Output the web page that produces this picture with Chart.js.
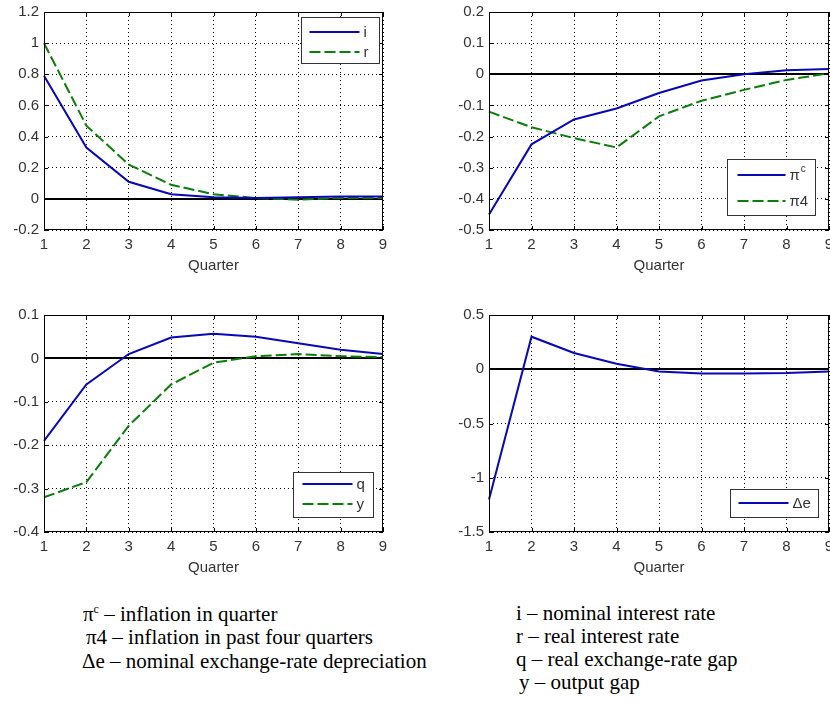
<!DOCTYPE html>
<html>
<head>
<meta charset="utf-8">
<script src="https://cdn.jsdelivr.net/npm/chart.js@4.4.1/dist/chart.umd.min.js"></script>
<style>
  body { margin: 0; background: #fff; }
  #page { position: relative; width: 830px; height: 702px; overflow: hidden; background: #fff; }
  canvas { position: absolute; }
  .note { position: absolute; font-family: "Liberation Serif", "Times New Roman", serif; font-size: 21px; line-height: 21px; color: #000; white-space: nowrap; }
  .note sup { font-size: 12px; line-height: 0; vertical-align: 8px; }
</style>
</head>
<body>
<div id="page">
  <canvas id="rates" width="415" height="290" style="left:0;top:0"></canvas>
  <canvas id="inflation" width="415" height="290" style="left:415px;top:0"></canvas>
  <canvas id="gaps" width="415" height="290" style="left:0;top:300px"></canvas>
  <canvas id="exchange" width="415" height="290" style="left:415px;top:300px"></canvas>

  <div class="note" style="left:83px;top:604px">π<sup>c</sup> – inflation in quarter</div>
  <div class="note" style="left:86px;top:627px">π4 – inflation in past four quarters</div>
  <div class="note" style="left:82px;top:651px">Δe – nominal exchange-rate depreciation</div>

  <div class="note" style="left:516px;top:603px">i – nominal interest rate</div>
  <div class="note" style="left:516px;top:626px">r – real interest rate</div>
  <div class="note" style="left:516px;top:649px">q – real exchange-rate gap</div>
  <div class="note" style="left:519px;top:672px">y – output gap</div>
</div>
<script>
// quarters after the shock
const quarters = ['1', '2', '3', '4', '5', '6', '7', '8', '9'];

// top left: interest rates
const nominalRate = [0.79, 0.33, 0.11, 0.03, 0.01, 0.005, 0.01, 0.015, 0.015];
const realRate = [1.0, 0.47, 0.22, 0.09, 0.03, 0.005, -0.005, 0.005, 0.005];
const ratesTicks = [-0.2, 0, 0.2, 0.4, 0.6, 0.8, 1, 1.2];

// top right: inflation
const inflationQuarter = [-0.45, -0.225, -0.145, -0.11, -0.06, -0.02, 0.0, 0.013, 0.017];
const inflationFour = [-0.12, -0.17, -0.205, -0.235, -0.135, -0.085, -0.05, -0.018, 0.003];
const inflationTicks = [-0.5, -0.4, -0.3, -0.2, -0.1, 0, 0.1, 0.2];

// bottom left: gaps
const realExchangeGap = [-0.19, -0.06, 0.01, 0.048, 0.057, 0.05, 0.035, 0.02, 0.01];
const outputGap = [-0.32, -0.285, -0.155, -0.06, -0.01, 0.005, 0.01, 0.005, 0.003];
const gapsTicks = [-0.4, -0.3, -0.2, -0.1, 0, 0.1];

// bottom right: depreciation
const depreciation = [-1.2, 0.3, 0.15, 0.05, -0.02, -0.04, -0.04, -0.035, -0.02];
const exchangeTicks = [-1.5, -1, -0.5, 0, 0.5];

const BLUE = '#0808b4';
const GREEN = '#0a7d0a';
const AXIS_FONT = { family: '"Liberation Sans", Arial, sans-serif', size: 15 };

// zero line, box with inward ticks and a matlab-like legend inside the axes
const matlabBox = {
  id: 'matlabBox',
  beforeDatasetsDraw(chart) {
    const { ctx, chartArea: a, scales: { y } } = chart;
    const y0 = Math.round(y.getPixelForValue(0));
    ctx.save();
    ctx.strokeStyle = '#000';
    ctx.lineWidth = 2;
    ctx.beginPath();
    ctx.moveTo(a.left, y0);
    ctx.lineTo(a.right, y0);
    ctx.stroke();
    ctx.restore();
  },
  afterDraw(chart, args, opts) {
    const { ctx, chartArea: a, scales: { x, y } } = chart;
    ctx.save();
    ctx.strokeStyle = '#000';
    ctx.lineWidth = 1;
    ctx.strokeRect(a.left + 0.5, a.top + 0.5, a.right - a.left - 1, a.bottom - a.top - 1);

    // short ticks pointing into the axes, on all four sides
    ctx.beginPath();
    x.ticks.forEach((t, i) => {
      const px = Math.round(x.getPixelForTick(i)) + 0.5;
      ctx.moveTo(px, a.bottom); ctx.lineTo(px, a.bottom - 4);
      ctx.moveTo(px, a.top); ctx.lineTo(px, a.top + 4);
    });
    y.ticks.forEach((t) => {
      const py = Math.round(y.getPixelForValue(t.value)) + 0.5;
      ctx.moveTo(a.left, py); ctx.lineTo(a.left + 4, py);
      ctx.moveTo(a.right, py); ctx.lineTo(a.right - 4, py);
    });
    ctx.stroke();

    const L = opts.legend;
    const bx = Math.round(a.right - L.right - L.width) + 0.5;
    const by = Math.round(L.top != null ? a.top + L.top : a.bottom - L.bottom - L.height) + 0.5;
    ctx.fillStyle = '#fff';
    ctx.fillRect(bx, by, L.width, L.height);
    ctx.strokeStyle = '#333';
    ctx.strokeRect(bx, by, L.width, L.height);

    chart.data.datasets.forEach((ds, i) => {
      const ry = Math.round(by + L.rowTop + i * L.rowGap);
      const lx = bx + L.inset;
      ctx.strokeStyle = ds.borderColor;
      ctx.lineWidth = 2;
      ctx.setLineDash(ds.borderDash || []);
      ctx.beginPath();
      ctx.moveTo(lx, ry);
      ctx.lineTo(lx + L.lineLen, ry);
      ctx.stroke();
      ctx.setLineDash([]);

      const [base, sup] = ds.label.split('^');
      const tx = lx + L.lineLen + 4;
      ctx.fillStyle = '#333';
      ctx.textBaseline = 'middle';
      ctx.font = '15px "Liberation Sans", Arial, sans-serif';
      ctx.fillText(base, tx, ry + 1);
      if (sup) {
        const w = ctx.measureText(base).width;
        ctx.font = '10px "Liberation Sans", Arial, sans-serif';
        ctx.fillText(sup, tx + w + 1, ry - 6);
      }
    });
    ctx.restore();
  }
};

function makePanel(id, series, yTicks, legend, padding) {
  new Chart(document.getElementById(id), {
    type: 'line',
    data: {
      labels: quarters,
      datasets: series.map(s => ({
        label: s.label,
        data: s.data,
        borderColor: s.color,
        borderDash: s.dash || [],
        borderWidth: 2,
        pointRadius: 0,
        tension: 0,
        fill: false,
      })),
    },
    options: {
      responsive: false,
      animation: false,
      layout: { padding },
      plugins: {
        legend: { display: false },
        tooltip: { enabled: false },
        matlabBox: { legend },
      },
      scales: {
        x: {
          offset: false,
          grid: { color: '#000', lineWidth: 1, drawTicks: false },
          border: { display: false, dash: [1, 3] },
          ticks: { color: '#333', font: AXIS_FONT, padding: 6, maxRotation: 0 },
          title: { display: true, text: 'Quarter', color: '#333', font: AXIS_FONT, padding: { top: 5, bottom: 5 } },
          afterFit: (s) => { s.height = 50; s.paddingLeft = 0; s.paddingRight = 0; },
        },
        y: {
          min: yTicks[0],
          max: yTicks[yTicks.length - 1],
          afterBuildTicks: (s) => { s.ticks = yTicks.map(v => ({ value: v })); },
          grid: { color: '#000', lineWidth: 1, drawTicks: false },
          border: { display: false, dash: [1, 3] },
          ticks: {
            color: '#333',
            font: AXIS_FONT,
            padding: 5,
            callback: (v) => String(Math.round(v * 100) / 100),
          },
          afterFit: (s) => { s.width = 40; s.paddingTop = 0; s.paddingBottom = 0; },
        },
      },
    },
    plugins: [matlabBox],
  });
}

makePanel('rates', [
  { label: 'i', data: nominalRate, color: BLUE },
  { label: 'r', data: realRate, color: GREEN, dash: [11, 4] },
], ratesTicks,
{ right: 4, top: 5, width: 78, height: 46, inset: 8, lineLen: 50, rowTop: 14, rowGap: 20 },
{ left: 4, top: 12, right: 32, bottom: 10 });

makePanel('inflation', [
  { label: 'π^c', data: inflationQuarter, color: BLUE },
  { label: 'π4', data: inflationFour, color: GREEN, dash: [11, 4] },
], inflationTicks,
{ right: 14, bottom: 15, width: 88, height: 56, inset: 10, lineLen: 48, rowTop: 15, rowGap: 26 },
{ left: 34, top: 12, right: 1, bottom: 10 });

makePanel('gaps', [
  { label: 'q', data: realExchangeGap, color: BLUE },
  { label: 'y', data: outputGap, color: GREEN, dash: [11, 4] },
], gapsTicks,
{ right: 10, bottom: 15, width: 80, height: 45, inset: 9, lineLen: 50, rowTop: 11, rowGap: 20 },
{ left: 4, top: 15, right: 32, bottom: 8 });

makePanel('exchange', [
  { label: 'Δe', data: depreciation, color: BLUE },
], exchangeTicks,
{ right: 11, bottom: 15, width: 88, height: 28, inset: 8, lineLen: 50, rowTop: 13, rowGap: 20 },
{ left: 34, top: 15, right: 1, bottom: 8 });
</script>
</body>
</html>
